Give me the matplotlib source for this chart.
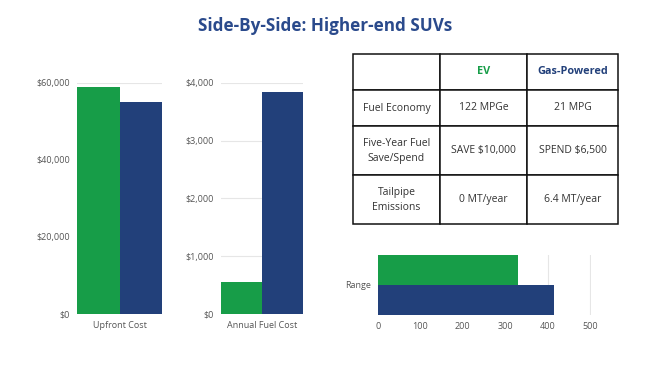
import matplotlib
matplotlib.use("Agg")
import matplotlib.pyplot as plt

plt.rcParams['font.family'] = ['Open Sans', 'DejaVu Sans']

# ---- data ----
series = ["EV", "Gas-Powered"]
upfront_cost = [59000, 55000]
annual_fuel_cost = [550, 3850]
range_miles = [330, 415]
upfront_ticks = [0, 20000, 40000, 60000]
fuel_ticks = [0, 1000, 2000, 3000, 4000]
range_ticks = [0, 100, 200, 300, 400, 500]
table_labels = ["Fuel Economy", "Five-Year Fuel\nSave/Spend", "Tailpipe\nEmissions"]
ev_values = ["122 MPGe", "SAVE $10,000", "0 MT/year"]
gas_values = ["21 MPG", "SPEND $6,500", "6.4 MT/year"]

GREEN = "#179d48"
BLUE = "#22407a"
colors = [GREEN, BLUE]
TICK_C = "#555555"
GRID_C = "#e6e6e6"

W, H = 650, 366
fig = plt.figure(figsize=(6.5, 3.66), dpi=100)

def px_axes(x0, y0, x1, y1):
    return fig.add_axes([x0 / W, 1 - y1 / H, (x1 - x0) / W, (y1 - y0) / H])

fig.text(0.5, 1 - 26 / H, "Side-By-Side: Higher-end SUVs", ha="center", va="center",
         fontsize=12.3, fontweight="bold", color="#2a4a8c")

def vbar(ax, values, ticks, label):
    offsets = [-0.25, 0.25]
    for off, v, c in zip(offsets, values, colors):
        ax.bar(off, v, width=0.5, color=c, zorder=3)
    ax.set_xlim(-0.5, 0.5)
    ax.set_ylim(0, ticks[-1])
    ax.set_yticks(ticks)
    ax.set_yticklabels([f"${t:,}" for t in ticks])
    ax.set_xticks([0])
    ax.set_xticklabels([label])
    ax.tick_params(length=0, labelsize=6.5, colors=TICK_C, pad=5)
    ax.grid(axis="y", color=GRID_C, linewidth=0.8, zorder=0)
    for s in ax.spines.values():
        s.set_visible(False)

ax1 = px_axes(77, 83, 162, 314)
vbar(ax1, upfront_cost, upfront_ticks, "Upfront Cost")
ax2 = px_axes(220.7, 83, 302.7, 314)
vbar(ax2, annual_fuel_cost, fuel_ticks, "Annual Fuel Cost")

# Range chart
ax3 = px_axes(377.7, 255, 591, 315)
for off, v, c in zip([0.25, -0.25], range_miles, colors):
    ax3.barh(off, v, height=0.5, color=c, zorder=3)
ax3.set_ylim(-0.5, 0.5)
ax3.set_xlim(0, 502)
ax3.set_xticks(range_ticks)
ax3.set_yticks([0])
ax3.set_yticklabels(["Range"])
ax3.tick_params(length=0, labelsize=6.5, colors=TICK_C, pad=5)
ax3.grid(axis="x", color=GRID_C, linewidth=0.8, zorder=0)
for s in ax3.spines.values():
    s.set_visible(False)

# Table
axt = px_axes(353, 54, 618, 224)
axt.axis("off")
cell_text = [["", series[0], series[1]]]
for lab, e, g in zip(table_labels, ev_values, gas_values):
    cell_text.append([lab, e, g])
tbl = axt.table(cellText=cell_text, cellLoc="center", bbox=[0, 0, 1, 1],
                colWidths=[87, 87, 91])
tbl.auto_set_font_size(False)
row_h = [36, 36, 49, 49]
total = sum(row_h)
for (r, c), cell in tbl.get_celld().items():
    cell.set_edgecolor("#111111")
    cell.set_linewidth(1.1)
    cell.set_height(row_h[r] / total)
    t = cell.get_text()
    t.set_fontsize(7.5)
    t.set_color("#333333")
    t.set_linespacing(1.5)
    if r == 0 and c > 0:
        t.set_fontweight("bold")
        t.set_fontsize(7.8)
        t.set_color(colors[c - 1])

fig.savefig("out.png", dpi=100)
